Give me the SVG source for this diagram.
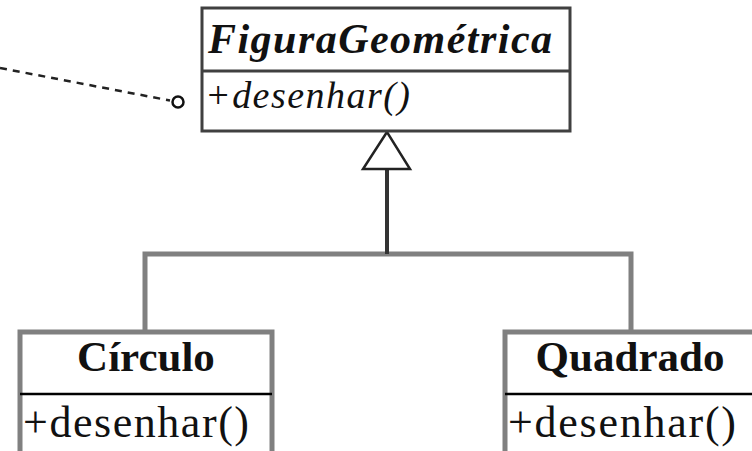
<svg xmlns="http://www.w3.org/2000/svg" width="752" height="451" viewBox="0 0 752 451">
<style>
.top{fill:#fff;stroke:#404040;stroke-width:3}
.sub{fill:#fff;stroke:#808080;stroke-width:5}
.div{stroke:#000;stroke-width:2.5}
.t{font-family:"Liberation Serif","Times New Roman",serif;fill:#111}
.gray{stroke:#808080;stroke-width:5;fill:none}
</style>
<rect width="752" height="451" fill="#fff"/>
<g id="connectors">
  <line x1="0" y1="68" x2="170" y2="100.5" stroke="#222" stroke-width="2.5" stroke-dasharray="7,6"/>
  <circle cx="178" cy="102" r="5.5" fill="#fff" stroke="#111" stroke-width="2.5"/>
  <polyline class="gray" points="145,332 145,254 631,254 631,332"/>
  <line x1="387" y1="169" x2="387" y2="254" stroke="#333" stroke-width="4"/>
  <polygon points="387,132 363,169 410,169" fill="#fff" stroke="#222" stroke-width="2.5" stroke-linejoin="miter"/>
</g>
<g id="FiguraGeometrica">
  <rect class="top" x="202" y="8" width="368" height="123"/>
  <line x1="202" y1="71" x2="570" y2="71" stroke="#404040" stroke-width="3"/>
  <text class="t" x="208" y="53" font-size="42" font-weight="bold" font-style="italic" textLength="344" lengthAdjust="spacing">FiguraGeométrica</text>
  <text class="t" x="205" y="108" font-size="38" font-style="italic" textLength="205" lengthAdjust="spacing">+desenhar()</text>
</g>
<g id="Circulo">
  <rect class="sub" x="20" y="332" width="252" height="140"/>
  <line class="div" x1="20" y1="394" x2="272" y2="394"/>
  <text class="t" x="146" y="371" font-size="43" font-weight="bold" text-anchor="middle">Círculo</text>
  <text class="t" x="23" y="437" font-size="44" textLength="226" lengthAdjust="spacing">+desenhar()</text>
</g>
<g id="Quadrado">
  <rect class="sub" x="505" y="332" width="256" height="140"/>
  <line class="div" x1="505" y1="394" x2="761" y2="394"/>
  <text class="t" x="630" y="371" font-size="43" font-weight="bold" text-anchor="middle">Quadrado</text>
  <text class="t" x="508" y="437" font-size="44" textLength="228" lengthAdjust="spacing">+desenhar()</text>
</g>
</svg>
